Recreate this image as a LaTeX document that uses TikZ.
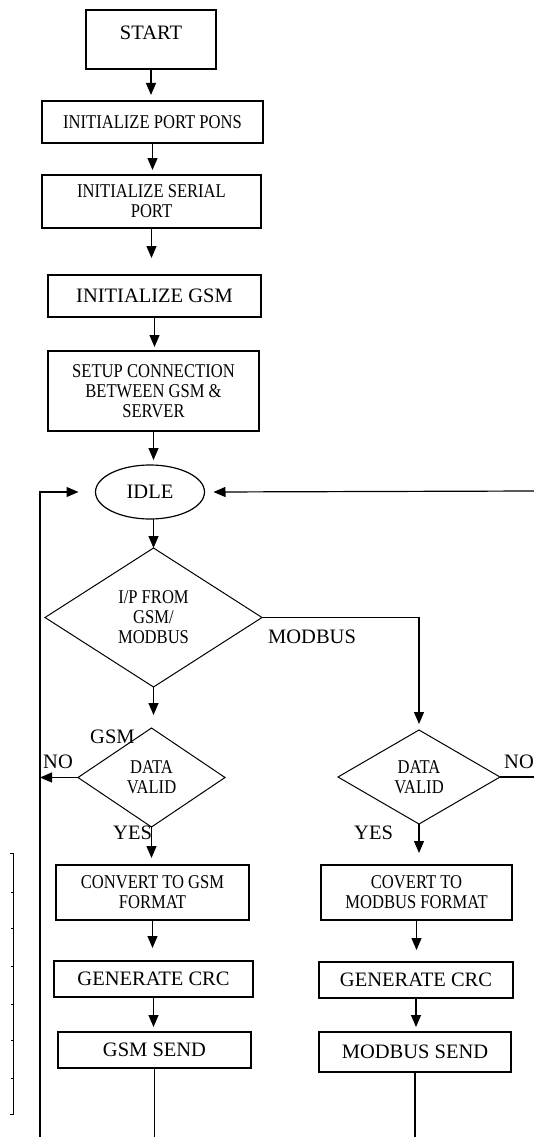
\documentclass[tikz,border=0pt]{standalone}
\usepackage{fontspec}
\setmainfont{Liberation Serif}
\newfontfamily\condfont[FakeStretch=0.85]{Liberation Serif}
\usetikzlibrary{shapes.geometric,arrows.meta}
\begin{document}
\begin{tikzpicture}[x=1pt,y=-1pt,
 big/.style={font=\fontsize{20.5}{24}\selectfont},
 small/.style={font=\condfont\fontsize{19.5}{20}\selectfont},
 box/.style={draw,line width=1.2pt,rectangle,inner sep=0pt,outer sep=0pt,align=center},
 dia/.style={draw,line width=1pt,diamond,inner sep=0pt,outer sep=0pt,align=center,small},
 arr/.style={line width=1.2pt,-{Triangle[length=12pt,width=10pt]}},
 ln/.style={line width=1.2pt},
 lbl/.style={inner sep=0pt,anchor=west,big}]
\useasboundingbox (0,0) rectangle (534,1137);

% boxes
\node[box,big,minimum width=130pt,minimum height=59pt,text depth=13pt] (start) at (151,39.5) {START};
\node[box,small,minimum width=221pt,minimum height=42pt] (pons) at (152.5,122) {INITIALIZE PORT PONS};
\node[box,small,minimum width=219pt,minimum height=53pt] (serial) at (151.5,201.5) {INITIALIZE SERIAL\\PORT};
\node[box,big,minimum width=213pt,minimum height=42pt] (gsm) at (154.5,296) {INITIALIZE GSM};
\node[box,small,minimum width=211pt,minimum height=80pt] (setup) at (153.5,391) {SETUP CONNECTION\\BETWEEN GSM \&\\SERVER};
\node[draw,line width=1.2pt,ellipse,inner sep=0pt,outer sep=0pt,big,minimum width=109pt,minimum height=54pt] (idle) at (150,492) {IDLE};
\node[dia,shape aspect=1.56,minimum width=217pt,minimum height=139pt] (d1) at (153.5,617.5) {I/P FROM\\GSM/\\MODBUS};
\node[dia,shape aspect=1.48,minimum width=147pt,minimum height=99pt] (d2) at (151.5,777.5) {DATA\\VALID};
\node[dia,shape aspect=1.7,minimum width=162pt,minimum height=94pt] (d3) at (419,777) {DATA\\VALID};
\node[box,small,minimum width=193pt,minimum height=55pt] (conv1) at (152.5,892.5) {CONVERT TO GSM\\FORMAT};
\node[box,small,minimum width=191pt,minimum height=55pt] (conv2) at (416.5,892.5) {COVERT TO\\MODBUS FORMAT};
\node[box,big,minimum width=199pt,minimum height=36pt] (crc1) at (153.5,979) {GENERATE CRC};
\node[box,big,minimum width=194pt,minimum height=36pt] (crc2) at (416,980) {GENERATE CRC};
\node[box,big,minimum width=193pt,minimum height=36pt] (send1) at (154.5,1050) {GSM SEND};
\node[box,big,minimum width=192pt,minimum height=40pt] (send2) at (415,1052) {MODBUS SEND};

% labels
\node[lbl] (lmod) at (268,637) {MODBUS};
\node[lbl] (lgsm) at (90,737) {GSM};
\node[lbl] (lno1) at (43,762) {NO};
\node[lbl] (lyes1) at (113,833) {YES};
\node[lbl] (lno2) at (504,762) {NO};
\node[lbl] (lyes2) at (354,833) {YES};

% free ends
\coordinate (lb) at (40,1137);
\coordinate (rb) at (534,491);

% connectors
\draw[arr] (start.south) -- ([yshift=6pt]start.south |- pons.north);
\draw[arr] (pons.south) -- ([yshift=5pt]pons.south |- serial.north);
\draw[arr] (serial.south) -- ([yshift=17pt]serial.south |- gsm.north);
\draw[arr] (gsm.south) -- ([yshift=4pt]gsm.south |- setup.north);
\draw[arr] (setup.south) -- ([yshift=5pt]setup.south |- idle.north);
\draw[arr] (idle.south -| d1.north) -- (d1.north);
\draw[arr] (d1.south) -- ([yshift=13pt]d1.south |- d2.north);
\draw[arr] (d1.east) -| ([yshift=6pt]d3.north);
\draw[arr] (d2.west) -- (d2.west -| lb);
\draw[arr] (d2.south) -- ([yshift=7pt]d2.south |- conv1.north);
\draw[arr] (d3.south) -- ([yshift=12pt]d3.south |- conv2.north);
\draw[arr] (conv1.south) -- ([yshift=13pt]conv1.south |- crc1.north);
\draw[arr] (conv2.south) -- ([yshift=12pt]conv2.south |- crc2.north);
\draw[arr] (crc1.south) -- ([yshift=5pt]crc1.south |- send1.north);
\draw[arr] (crc2.south) -- ([yshift=5pt]crc2.south |- send2.north);
\draw[ln] (send1.south) -- (send1.south |- lb);
\draw[ln] (send2.south) -- (send2.south |- lb);
\draw[ln] (d3.east) -- (d3.east -| rb);
\draw[arr] (lb) |- ([xshift=-17pt]idle.west);
\draw[arr] (rb) -- ([xshift=9pt]idle.east);

% ruler at left
\draw[line width=1pt] (10,853) -- (13,853) -- (13,1114) -- (10,1114);
\foreach \t in {892,928,966,1004,1040,1078} \draw[line width=1pt] (11,\t) -- (13,\t);
\end{tikzpicture}
\end{document}
